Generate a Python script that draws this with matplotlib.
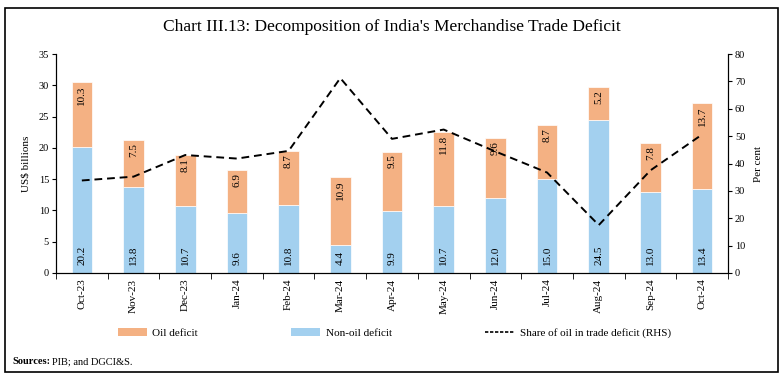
import matplotlib
matplotlib.use("Agg")
import matplotlib.pyplot as plt
from matplotlib.patches import Rectangle, Patch
from matplotlib.lines import Line2D
import numpy as np

months = ["Oct-23", "Nov-23", "Dec-23", "Jan-24", "Feb-24", "Mar-24", "Apr-24",
          "May-24", "Jun-24", "Jul-24", "Aug-24", "Sep-24", "Oct-24"]
non_oil = [20.2, 13.8, 10.7, 9.6, 10.8, 4.4, 9.9, 10.7, 12.0, 15.0, 24.5, 13.0, 13.4]
oil = [10.3, 7.5, 8.1, 6.9, 8.7, 10.9, 9.5, 11.8, 9.6, 8.7, 5.2, 7.8, 13.7]
oil_share = [33.8, 35.2, 43.1, 41.8, 44.6, 71.2, 49.0, 52.4, 44.4, 36.7, 17.5, 37.5, 50.6]

plt.rcParams['font.family'] = ['Liberation Serif', 'DejaVu Serif']

oil_color = "#F4B183"
nonoil_color = "#A3D0EF"

fig = plt.figure(figsize=(7.84, 3.84), dpi=100)
ax = fig.add_axes([56/784, 1-273/384, (728-56)/784, (273-54)/384])
x = np.arange(len(months))
w = 0.4
ax.bar(x, non_oil, width=w, color=nonoil_color, edgecolor="white", linewidth=0.5, zorder=2)
ax.bar(x, oil, width=w, bottom=non_oil, color=oil_color, edgecolor="white", linewidth=0.5, zorder=2)

for xi, n, o in zip(x, non_oil, oil):
    ax.text(xi, 1.2, f"{n:.1f}", rotation=90, ha="center", va="bottom", fontsize=8, zorder=3)
    ax.text(xi, n + o - 0.5, f"{o:.1f}", rotation=90, ha="center", va="top", fontsize=8, zorder=3)

ax.set_xlim(-0.5, len(months) - 0.5)
ax.set_ylim(0, 35)
ax.set_yticks(np.arange(0, 36, 5))
ax.set_xticks(x)
ax.set_xticklabels(months, rotation=90, fontsize=8)
ax.tick_params(axis="x", which="major", length=0, pad=4)
ax.set_xticks(np.arange(-0.5, len(months), 1), minor=True)
ax.tick_params(axis="x", which="minor", length=4, direction="out")
ax.tick_params(axis="y", labelsize=7.5, length=3, direction="out", pad=2)
ax.set_ylabel("US$ billions", fontsize=8, labelpad=6)
ax.spines["top"].set_visible(False)

ax2 = ax.twinx()
ax2.plot(x, oil_share, color="black", linestyle=(0, (4, 2.5)), linewidth=1.4, zorder=5)
ax2.set_ylim(0, 80)
ax2.set_yticks(np.arange(0, 81, 10))
ax2.tick_params(axis="y", labelsize=7.5, length=3, direction="out", pad=2)
ax2.set_ylabel("Per cent", fontsize=8, labelpad=6)
ax2.spines["top"].set_visible(False)

fig.text(0.5, 1-27/384, "Chart III.13: Decomposition of India's Merchandise Trade Deficit",
         ha="center", va="center", fontsize=12.5)

handles = [Patch(facecolor=oil_color, edgecolor="none"),
           Patch(facecolor=nonoil_color, edgecolor="none"),
           Line2D([0], [0], color="black", linestyle=(0, (2, 1)), linewidth=1.2)]
labels = ["Oil deficit", "Non-oil deficit", "Share of oil in trade deficit (RHS)"]
fig.legend(handles, labels, loc="center", bbox_to_anchor=(0.503, 1-333/384), ncol=3,
           frameon=False, fontsize=8, handlelength=2.6, handletextpad=0.5,
           columnspacing=8.4, handleheight=0.8)

fig.text(12/784, 1-362/384, "Sources:", fontsize=7.5, va="center", ha="left", fontweight="bold")
fig.text(52/784, 1-362/384, "PIB; and DGCI&S.", fontsize=7.5, va="center", ha="left")

fig.patches.append(Rectangle((5/784, 1-372/384), 773/784, 364/384, transform=fig.transFigure,
                             fill=False, edgecolor="black", linewidth=1.2))

fig.savefig("out.png", dpi=100)
